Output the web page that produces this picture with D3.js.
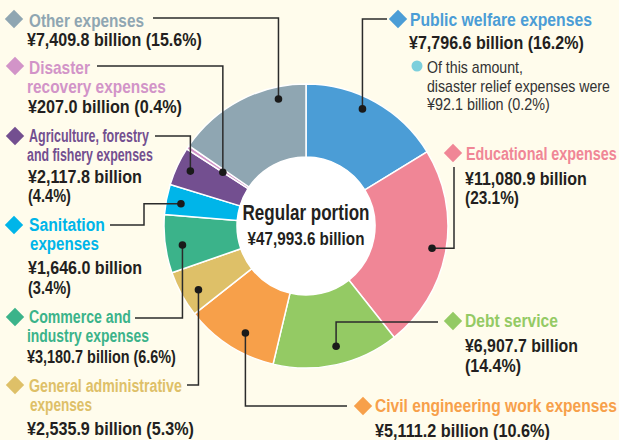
<!DOCTYPE html>
<html>
<head>
<meta charset="utf-8">
<script src="https://cdn.jsdelivr.net/npm/d3@7"></script>
<style>
  body { margin: 0; background: #fffcec; }
  svg { display: block; }
  text { font-family: "Liberation Sans", Arial, sans-serif; }
  .ttl { font-weight: bold; font-size: 19px; }
  .val { font-weight: bold; font-size: 18px; fill: #231f20; }
  .note { font-size: 16px; fill: #333; }
</style>
</head>
<body>
<svg width="619" height="440"></svg>
<script>
// data, clockwise from 12 o'clock
var categories = ["Public welfare expenses", "Educational expenses", "Debt service",
  "Civil engineering work expenses", "General administrative expenses",
  "Commerce and industry expenses", "Sanitation expenses",
  "Agriculture, forestry and fishery expenses", "Disaster recovery expenses", "Other expenses"];
var values = [7796.6, 11080.9, 6907.7, 5111.2, 2535.9, 3180.7, 1646.0, 2117.8, 207.0, 7409.8];
var percents = ["16.2%", "23.1%", "14.4%", "10.6%", "5.3%", "6.6%", "3.4%", "4.4%", "0.4%", "15.6%"];
var total = 47993.6;
var noteLines = ["Of this amount,", "disaster relief expenses were", "¥92.1 billion (0.2%)"];

var colors = ["#4b9dd6", "#f08696", "#94ca64", "#f7a04a", "#dec068", "#3bb38a", "#00b5e9", "#734f90", "#d294c8", "#8fa6b2"];

// label layout: title lines, baselines, squeezed widths, leader ends
var layout = [
  {title: ["Public welfare expenses"], tw: [182], dx: 398, dy: 19, tx: 410, ty: [26], vx: 409, vy: [49], vw: [175], split: false, end: [387, 19], mode: "hv", t: 0.44, r: 130},
  {title: ["Educational expenses"], tw: [151], dx: 453, dy: 153, tx: 466, ty: [160], vx: 465, vy: [185, 204], vw: [122, 54], split: true, end: [454, 167], mode: "vh", t: 0.5, r: 128},
  {title: ["Debt service"], tw: [93], dx: 453, dy: 321, tx: 465, ty: [327], vx: 465, vy: [352, 372], vw: [113, 56], split: true, end: [438, 322], mode: "hv", t: 0.47, r: 124},
  {title: ["Civil engineering work expenses"], tw: [242], dx: 363, dy: 406, tx: 375, ty: [412], vx: 375, vy: [437], vw: [175], split: false, end: [347, 406], mode: "hv", t: 0.42, r: 123},
  {title: ["General administrative", "expenses"], tw: [153, 62], dx: 15, dy: 385, tx: 29, ty: [392, 411], vx: 27, vy: [435], vw: [167], split: false, end: [187, 385], mode: "hv", t: 0.4, r: 125},
  {title: ["Commerce and", "industry expenses"], tw: [102, 122], dx: 15, dy: 317, tx: 29, ty: [323, 342], vx: 27, vy: [363], vw: [149], split: false, end: [135, 318], mode: "hv", t: 0.44, r: 125},
  {title: ["Sanitation", "expenses"], tw: [76, 69], dx: 14, dy: 225, tx: 29, ty: [231, 250], vx: 28, vy: [274, 294], vw: [114, 43], split: true, end: [110, 225], mode: "hvh", mid: 144, t: 0.44, r: 127},
  {title: ["Agriculture, forestry", "and fishery expenses"], tw: [120, 126], dx: 15, dy: 136, tx: 29, ty: [142, 161], vx: 28, vy: [183, 202], vw: [114, 43], split: true, end: [155, 136], mode: "hv", t: 0.53, r: 128},
  {title: ["Disaster", "recovery expenses"], tw: [61, 139], dx: 15, dy: 66, tx: 29, ty: [74, 93], vx: 28, vy: [113], vw: [154], split: false, end: [97, 66], mode: "hv", t: 0, r: 99},
  {title: ["Other expenses"], tw: [115], dx: 14, dy: 19, tx: 29, ty: [27], vx: 27, vy: [46], vw: [175], split: false, end: [153, 18], mode: "hv", t: 0.78, r: 130}
];
var contX = [30, 27]; // x of a title's continuation line

var svg = d3.select("svg");
var cx = 306, cy = 226, outerR = 142, innerR = 69;

svg.append("rect").attr("width", 619).attr("height", 440).attr("fill", "#fffcec");

// condensed look: squeeze each text horizontally to the width it has in the original
function addText(parent, x, y, str, cls, w, anchor) {
  var t = parent.append("text").attr("class", cls).text(str);
  if (anchor) t.attr("text-anchor", anchor);
  return t.each(function() {
    var el = this;
    d3.select(el).attr("transform", function() {
      var nat = el.getComputedTextLength();
      return "translate(" + x + "," + y + ") scale(" + (w / nat) + ",1)";
    });
  });
}

var pie = d3.pie().sort(null).value(function(d) { return d; });
var arcs = pie(values);
var arc = d3.arc().innerRadius(innerR).outerRadius(outerR);

var g = svg.append("g").attr("transform", "translate(" + cx + "," + cy + ")");
g.selectAll("path.slice")
  .data(arcs)
  .enter()
  .append("path")
  .attr("class", "slice")
  .attr("d", arc)
  .attr("fill", function(d, i) { return colors[i]; })
  .attr("stroke", "#fff")
  .attr("stroke-width", 1.5);

g.append("circle").attr("r", innerR).attr("fill", "#fff");

// center text
var fmt = d3.format(",.1f");
var c1 = g.append("text").attr("class", "ttl").style("font-size", "22px").attr("fill", "#231f20")
  .attr("text-anchor", "middle").text("Regular portion");
c1.attr("transform", "translate(0,-6) scale(" + (127 / c1.node().getComputedTextLength()) + ",1)");
var c2 = g.append("text").attr("class", "ttl").style("font-size", "18.5px").attr("fill", "#231f20")
  .attr("text-anchor", "middle").text("¥" + fmt(total) + " billion");
c2.attr("transform", "translate(0,19) scale(" + (117 / c2.node().getComputedTextLength()) + ",1)");

// dots + leaders
arcs.forEach(function(a, i) {
  var L = layout[i];
  var ang = a.startAngle + L.t * (a.endAngle - a.startAngle);
  var px = cx + L.r * Math.sin(ang), py = cy - L.r * Math.cos(ang);
  var pts;
  if (L.mode === "hv") pts = [L.end, [px, L.end[1]], [px, py]];
  else if (L.mode === "vh") pts = [L.end, [L.end[0], py], [px, py]];
  else pts = [L.end, [L.mid, L.end[1]], [L.mid, py], [px, py]];
  svg.append("path")
    .attr("d", d3.line()(pts))
    .attr("fill", "none")
    .attr("stroke", "#2b2b2b")
    .attr("stroke-width", 1.5);
  svg.append("circle").attr("cx", px).attr("cy", py).attr("r", 3.8).attr("fill", "#1a1a1a");
});

// labels
layout.forEach(function(L, i) {
  svg.append("rect")
    .attr("x", -6.5).attr("y", -6.5).attr("width", 13).attr("height", 13)
    .attr("transform", "translate(" + L.dx + "," + L.dy + ") rotate(45)")
    .attr("fill", colors[i]);
  L.title.forEach(function(t, k) {
    var x = k === 0 ? L.tx : (t === "expenses" ? contX[0] : contX[1]);
    addText(svg, x, L.ty[k], t, "ttl", L.tw[k]).attr("fill", colors[i]);
  });
  var amount = "¥" + fmt(values[i]) + " billion";
  var pct = "(" + percents[i] + ")";
  var lines = L.split ? [amount, pct] : [amount + " " + pct];
  lines.forEach(function(t, k) {
    addText(svg, L.vx, L.vy[k], t, "val", L.vw[k]);
  });
});

// note under public welfare
svg.append("circle").attr("cx", 417).attr("cy", 66).attr("r", 5.5).attr("fill", "#7ccfdc");
var noteW = [96, 183, 123];
noteLines.forEach(function(t, k) {
  addText(svg, 427, 73 + k * 18.5, t, "note", noteW[k]);
});
</script>
</body>
</html>
